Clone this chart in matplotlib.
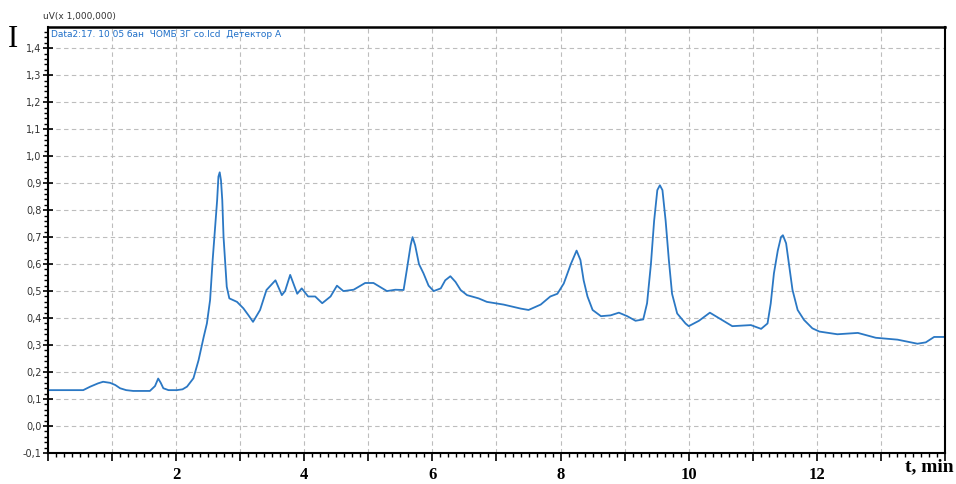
import matplotlib
matplotlib.use('Agg')
import matplotlib.pyplot as plt
import numpy as np
from matplotlib.ticker import MultipleLocator, FuncFormatter

# retention time (min) and detector signal (x 1,000,000 uV)
t = [0.0, 0.3, 0.55, 0.66, 0.78, 0.86, 0.97, 1.05, 1.125, 1.22, 1.33, 1.59, 1.67, 1.72,
     1.76, 1.80, 1.88, 2.01, 2.10, 2.17, 2.27, 2.35, 2.43, 2.48, 2.53, 2.57, 2.61, 2.64,
     2.66, 2.68, 2.70, 2.72, 2.74, 2.77, 2.79, 2.83, 2.95, 3.05, 3.13, 3.2, 3.31, 3.41,
     3.55, 3.65, 3.70, 3.78, 3.89, 3.96, 4.06, 4.17, 4.28, 4.41, 4.51, 4.61, 4.77, 4.95,
     5.08, 5.29, 5.42, 5.55, 5.6, 5.66, 5.69, 5.73, 5.79, 5.86, 5.94, 6.02, 6.13, 6.20,
     6.28, 6.36, 6.44, 6.54, 6.72, 6.85, 7.11, 7.38, 7.5, 7.69, 7.84, 7.95, 8.05, 8.16,
     8.25, 8.31, 8.36, 8.42, 8.50, 8.63, 8.78, 8.91, 9.04, 9.17, 9.29, 9.35, 9.41, 9.46,
     9.51, 9.55, 9.59, 9.64, 9.69, 9.74, 9.82, 9.95, 10.0, 10.16, 10.33, 10.47, 10.68,
     10.97, 11.13, 11.23, 11.28, 11.33, 11.39, 11.44, 11.47, 11.52, 11.57, 11.62, 11.70,
     11.80, 11.93, 12.04, 12.32, 12.64, 12.92, 13.26, 13.57, 13.70, 13.83, 14.0]
signal = [0.133, 0.133, 0.133, 0.146, 0.158, 0.164, 0.16, 0.152, 0.14, 0.133, 0.13, 0.13,
          0.148, 0.176, 0.16, 0.14, 0.133, 0.133, 0.136, 0.146, 0.177, 0.244, 0.33, 0.38,
          0.467, 0.615, 0.74, 0.837, 0.924, 0.94, 0.91, 0.837, 0.70, 0.59, 0.516, 0.473,
          0.46, 0.436, 0.41, 0.386, 0.43, 0.504, 0.54, 0.485, 0.50, 0.56, 0.49, 0.51, 0.48,
          0.48, 0.455, 0.48, 0.52, 0.50, 0.505, 0.53, 0.53, 0.50, 0.505, 0.504, 0.578, 0.67,
          0.70, 0.67, 0.60, 0.566, 0.52, 0.50, 0.51, 0.54, 0.555, 0.534, 0.504, 0.485, 0.473,
          0.46, 0.45, 0.435, 0.43, 0.45, 0.48, 0.49, 0.528, 0.60, 0.65, 0.615, 0.54, 0.48,
          0.43, 0.407, 0.41, 0.42, 0.407, 0.39, 0.395, 0.455, 0.60, 0.76, 0.874, 0.892,
          0.874, 0.76, 0.615, 0.49, 0.417, 0.38, 0.37, 0.39, 0.42, 0.40, 0.37, 0.374, 0.36,
          0.38, 0.454, 0.566, 0.65, 0.70, 0.707, 0.677, 0.59, 0.504, 0.43, 0.393, 0.362,
          0.35, 0.34, 0.345, 0.327, 0.32, 0.305, 0.31, 0.33, 0.33]

x_ticks = np.arange(0, 15, 1)
y_ticks = np.arange(-0.1, 1.45, 0.1)

fig = plt.figure(figsize=(9.56, 4.84), dpi=100)
ax = fig.add_axes([0.0502, 0.064, 0.9383, 0.880])

ax.plot(t, signal, color='#2b78c4', lw=1.3)

ax.set_xlim(0, 14)
ax.set_ylim(-0.1, 1.478)
ax.set_xticks(x_ticks)
ax.set_yticks(y_ticks)
ax.xaxis.set_minor_locator(MultipleLocator(0.125))
ax.yaxis.set_minor_locator(MultipleLocator(0.02))
ax.xaxis.set_major_formatter(FuncFormatter(lambda v, p: f'{int(round(v))}' if 0 < round(v) < 14 and round(v) % 2 == 0 else ''))
ax.yaxis.set_major_formatter(FuncFormatter(lambda v, p: f'{v:.1f}'.replace('.', ',').replace('-0,0', '0,0')))

ax.grid(True, which='major', color='#bdbdbd', ls=(0, (4, 3)), lw=0.8)
ax.tick_params(axis='x', which='major', direction='out', length=6, width=1.2, pad=4)
ax.tick_params(axis='x', which='minor', direction='out', length=3, width=1)
ax.tick_params(axis='y', which='major', direction='inout', length=7, width=1.2, pad=1,
               labelsize=7, labelcolor='#333333')
ax.tick_params(axis='y', which='minor', direction='out', length=3, width=1)
for lab in ax.get_xticklabels():
    lab.set_fontfamily('Liberation Serif')
    lab.set_fontweight('bold')
    lab.set_fontsize(12)
for s in ax.spines.values():
    s.set_linewidth(1.5)
ax.spines['top'].set_linewidth(1.8)

fig.text(0.045, 0.965, 'uV(x 1,000,000)', fontsize=6.5, color='#333333', ha='left', va='center')
fig.text(0.008, 0.918, 'I', fontsize=22, family='Liberation Serif', ha='left', va='center')
fig.text(0.998, 0.036, 't, min', fontsize=14, family='Liberation Serif', fontweight='bold',
         ha='right', va='center')
ax.text(0.003, 0.993, 'Data2:17. 10 05 бан  ЧОМБ 3Г со.lcd  Детектор A', transform=ax.transAxes,
        fontsize=6.5, color='#1f6fc8', ha='left', va='top')

fig.savefig('out.png', dpi=100)
